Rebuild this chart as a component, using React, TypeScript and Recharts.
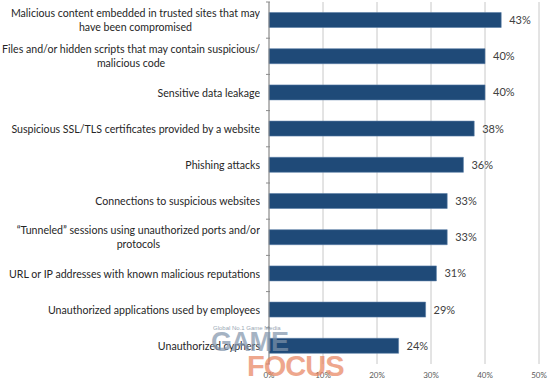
import React from "react";
import { BarChart, Bar, XAxis, YAxis, CartesianGrid, LabelList } from "recharts";

const categories = [
  "Malicious content embedded in trusted sites that may\nhave been compromised",
  "Files and/or hidden scripts that may contain suspicious/\nmalicious code",
  "Sensitive data leakage",
  "Suspicious SSL/TLS certificates provided by a website",
  "Phishing attacks",
  "Connections to suspicious websites",
  "\u201cTunneled\u201d sessions using unauthorized ports and/or\nprotocols",
  "URL or IP addresses with known malicious reputations",
  "Unauthorized applications used by employees",
  "Unauthorized cyphers",
];

const values = [0.43, 0.4, 0.4, 0.38, 0.36, 0.33, 0.33, 0.31, 0.29, 0.24];

const xTicks = [0, 0.1, 0.2, 0.3, 0.4, 0.5];

const data = categories.map((name, i) => ({ name, value: values[i] }));

const FONT = "Lato, 'Open Sans', sans-serif";

const BAND = 36.2;

function CategoryTick(props: any) {
  const { x, y, payload } = props;
  const lines = String(payload.value).split("\n");
  return (
    <g>
      <line x1={x + 5} x2={x + 9} y1={y - BAND / 2} y2={y - BAND / 2} stroke="#8c8c8c" />
      {props.index === categories.length - 1 && (
        <line x1={x + 5} x2={x + 9} y1={y + BAND / 2} y2={y + BAND / 2} stroke="#8c8c8c" />
      )}
      <foreignObject x={0} y={y - 18} width={x - 1} height={36}>
        <div
          style={{
            width: "100%",
            height: "100%",
            display: "flex",
            justifyContent: "flex-end",
            alignItems: "center",
          }}
        >
          <div
            style={{
              textAlign: "center",
              fontFamily: FONT,
              fontSize: 10.6,
              lineHeight: "14px",
              color: "#262626",
              whiteSpace: "nowrap",
            }}
          >
            {lines.map((l, i) => (
              <div key={i}>{l}</div>
            ))}
          </div>
        </div>
      </foreignObject>
    </g>
  );
}

export default function App() {
  return (
    <div style={{ position: "absolute", left: 0, top: 0, width: 560, height: 388, background: "#fff" }}>
      <BarChart
        width={560}
        height={388}
        data={data}
        layout="vertical"
        margin={{ top: 2, right: 21, bottom: 4, left: 0 }}
        barCategoryGap="29%"
      >
        <CartesianGrid horizontal={false} stroke="#c8c8c8" />
        <XAxis
          type="number"
          domain={[0, 0.5]}
          ticks={xTicks}
          tickFormatter={(v: number) => `${Math.round(v * 100)}%`}
          axisLine={false}
          tickLine={false}
          height={20}
          tick={{ fontFamily: FONT, fontSize: 8, fill: "#595959" }}
        />
        <YAxis
          type="category"
          dataKey="name"
          width={269}
          axisLine={{ stroke: "#8c8c8c" }}
          tickLine={false}
          tick={<CategoryTick />}
          interval={0}
        />
        <Bar dataKey="value" fill="#1f4a78" stroke="#5a7ea6" strokeWidth={0.6} isAnimationActive={false}>
          <LabelList
            dataKey="value"
            position="right"
            offset={8}
            formatter={(v: any) => `${Math.round(Number(v) * 100)}%`}
            style={{ fontFamily: FONT, fontSize: 11, fill: "#404040" }}
          />
        </Bar>
      </BarChart>
      <div
        style={{
          position: "absolute",
          left: 211,
          top: 325,
          fontFamily: "'Liberation Sans', sans-serif",
          pointerEvents: "none",
          opacity: 0.7,
        }}
      >
        <div style={{ fontSize: 6, color: "#6d7f95", marginLeft: 2 }}>Global No.1 Game Media</div>
        <div style={{ fontSize: 27, fontWeight: 900, color: "#7f93ab", lineHeight: "22px", letterSpacing: -1 }}>GAME</div>
        <div style={{ fontSize: 29, fontWeight: 900, color: "#e8835e", lineHeight: "26px", marginLeft: 36, letterSpacing: -1 }}>FOCUS</div>
      </div>
    </div>
  );
}
